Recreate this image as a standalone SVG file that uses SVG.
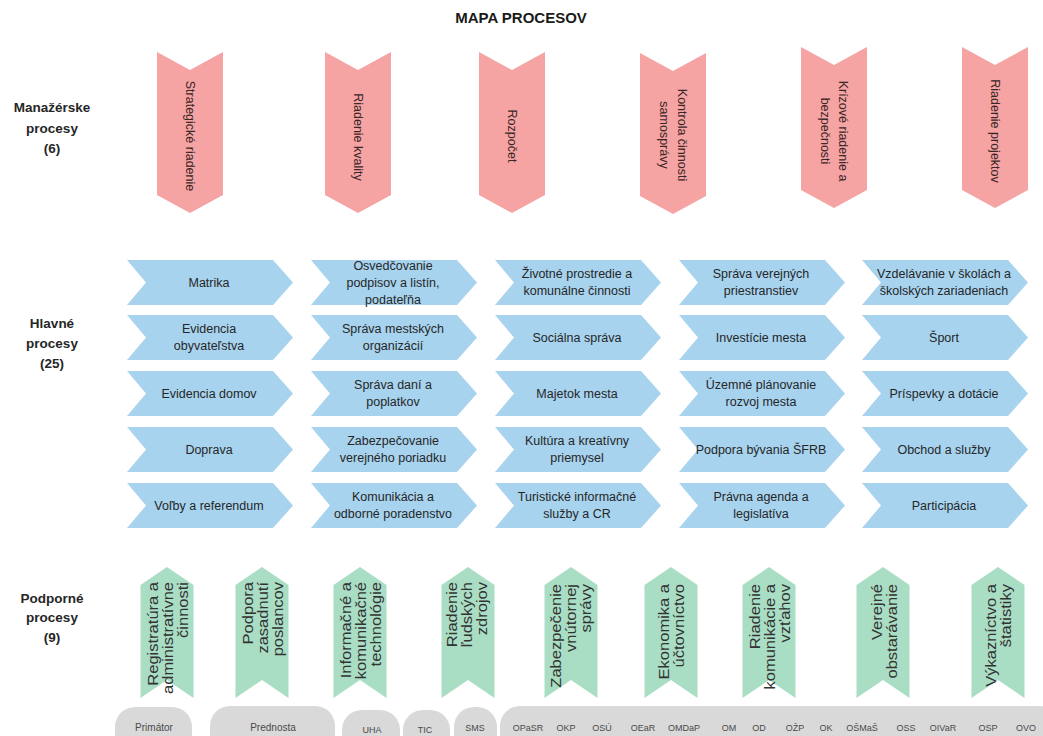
<svg xmlns="http://www.w3.org/2000/svg" xmlns:xlink="http://www.w3.org/1999/xlink" width="1043" height="736" viewBox="0 0 1043 736">
<style>
text{font-family:"Liberation Sans",Arial,sans-serif}
.title{font-size:15px;font-weight:bold;fill:#1a1a1a}
.lbl{font-size:13.5px;font-weight:bold;fill:#262626;text-anchor:middle}
.pink{fill:#f5a3a3}
.blue{fill:#a7d3ef}
.green{fill:#a9dec5}
.pill{fill:#d9d9d9}
.pt{font-size:12.5px;fill:#3a2626;text-anchor:middle;dominant-baseline:central}
.bt{font-size:12.5px;fill:#262626;text-anchor:middle;dominant-baseline:central}
.gt{font-size:14px;fill:#333333;text-anchor:end;dominant-baseline:central}
.ct{font-size:9px;fill:#4a4a4a;text-anchor:middle}
.ct2{font-size:10px;fill:#4a4a4a;text-anchor:middle}
</style>
<defs>
<path id="pdown" d="M0,0 L33,18 L66,0 V143 L33,161 L0,143 Z"/>
<path id="chev" d="M0,0 H146 L166,22.5 L146,45 H0 L19,22.5 Z"/>
<path id="gup" d="M0,18 L26.5,0 L53,18 V131 L26.5,113 L0,131 Z"/>
</defs>
<rect width="1043" height="736" fill="#ffffff"/>
<text class="title" x="521" y="23" text-anchor="middle">MAPA PROCESOV</text>

<g id="labels">
<text class="lbl" x="52" y="112">Manažérske</text>
<text class="lbl" x="52" y="133">procesy</text>
<text class="lbl" x="52" y="153">(6)</text>
<text class="lbl" x="52" y="328">Hlavné</text>
<text class="lbl" x="52" y="348">procesy</text>
<text class="lbl" x="52" y="368">(25)</text>
<text class="lbl" x="52" y="603">Podporné</text>
<text class="lbl" x="52" y="622">procesy</text>
<text class="lbl" x="52" y="642">(9)</text>
</g>

<g id="connectors"/>

<!-- Managerial processes -->
<g id="m1"><use href="#pdown" class="pink" x="157" y="52"/><text class="pt" transform="translate(190,136) rotate(90)">Strategické riadenie</text></g>
<g id="m2"><use href="#pdown" class="pink" x="325" y="52"/><text class="pt" transform="translate(358,137) rotate(90)">Riadenie kvality</text></g>
<g id="m3"><use href="#pdown" class="pink" x="479" y="52"/><text class="pt" transform="translate(512,136) rotate(90)">Rozpočet</text></g>
<g id="m4"><use href="#pdown" class="pink" x="640" y="53"/><text class="pt" transform="translate(673,135) rotate(90)"><tspan x="0" y="-9">Kontrola činnosti</tspan><tspan x="0" y="9">samosprávy</tspan></text></g>
<g id="m5"><use href="#pdown" class="pink" x="801" y="47"/><text class="pt" transform="translate(834,131) rotate(90)"><tspan x="0" y="-9">Krízové riadenie a</tspan><tspan x="0" y="9">bezpečnosti</tspan></text></g>
<g id="m6"><use href="#pdown" class="pink" x="962" y="47"/><text class="pt" transform="translate(995,131) rotate(90)">Riadenie projektov</text></g>

<!-- Main processes: column 1 -->
<g id="h1"><use href="#chev" class="blue" x="127" y="260"/><text class="bt" x="209" y="282.5">Matrika</text></g>
<g id="h2"><use href="#chev" class="blue" x="127" y="315"/><text class="bt"><tspan x="209" y="329">Evidencia</tspan><tspan x="209" y="346">obyvateľstva</tspan></text></g>
<g id="h3"><use href="#chev" class="blue" x="127" y="371"/><text class="bt" x="209" y="393.5">Evidencia domov</text></g>
<g id="h4"><use href="#chev" class="blue" x="127" y="427"/><text class="bt" x="209" y="449.5">Doprava</text></g>
<g id="h5"><use href="#chev" class="blue" x="127" y="483"/><text class="bt" x="209" y="505.5">Voľby a referendum</text></g>
<!-- column 2 -->
<g id="h6"><use href="#chev" class="blue" x="311" y="260"/><text class="bt"><tspan x="393" y="265.5">Osvedčovanie</tspan><tspan x="393" y="282.5">podpisov a listín,</tspan><tspan x="393" y="299.5">podateľňa</tspan></text></g>
<g id="h7"><use href="#chev" class="blue" x="311" y="315"/><text class="bt"><tspan x="393" y="329">Správa mestských</tspan><tspan x="393" y="346">organizácií</tspan></text></g>
<g id="h8"><use href="#chev" class="blue" x="311" y="371"/><text class="bt"><tspan x="393" y="385">Správa daní a</tspan><tspan x="393" y="402">poplatkov</tspan></text></g>
<g id="h9"><use href="#chev" class="blue" x="311" y="427"/><text class="bt"><tspan x="393" y="441">Zabezpečovanie</tspan><tspan x="393" y="458">verejného poriadku</tspan></text></g>
<g id="h10"><use href="#chev" class="blue" x="311" y="483"/><text class="bt"><tspan x="393" y="497">Komunikácia a</tspan><tspan x="393" y="514">odborné poradenstvo</tspan></text></g>
<!-- column 3 -->
<g id="h11"><use href="#chev" class="blue" x="495" y="260"/><text class="bt"><tspan x="577" y="274">Životné prostredie a</tspan><tspan x="577" y="291">komunálne činnosti</tspan></text></g>
<g id="h12"><use href="#chev" class="blue" x="495" y="315"/><text class="bt" x="577" y="337.5">Sociálna správa</text></g>
<g id="h13"><use href="#chev" class="blue" x="495" y="371"/><text class="bt" x="577" y="393.5">Majetok mesta</text></g>
<g id="h14"><use href="#chev" class="blue" x="495" y="427"/><text class="bt"><tspan x="577" y="441">Kultúra a kreatívny</tspan><tspan x="577" y="458">priemysel</tspan></text></g>
<g id="h15"><use href="#chev" class="blue" x="495" y="483"/><text class="bt"><tspan x="577" y="497">Turistické informačné</tspan><tspan x="577" y="514">služby a CR</tspan></text></g>
<!-- column 4 -->
<g id="h16"><use href="#chev" class="blue" x="679" y="260"/><text class="bt"><tspan x="761" y="274">Správa verejných</tspan><tspan x="761" y="291">priestranstiev</tspan></text></g>
<g id="h17"><use href="#chev" class="blue" x="679" y="315"/><text class="bt" x="761" y="337.5">Investície mesta</text></g>
<g id="h18"><use href="#chev" class="blue" x="679" y="371"/><text class="bt"><tspan x="761" y="385">Územné plánovanie</tspan><tspan x="761" y="402">rozvoj mesta</tspan></text></g>
<g id="h19"><use href="#chev" class="blue" x="679" y="427"/><text class="bt" x="761" y="449.5">Podpora bývania ŠFRB</text></g>
<g id="h20"><use href="#chev" class="blue" x="679" y="483"/><text class="bt"><tspan x="761" y="497">Právna agenda a</tspan><tspan x="761" y="514">legislatíva</tspan></text></g>
<!-- column 5 -->
<g id="h21"><use href="#chev" class="blue" x="862" y="260"/><text class="bt"><tspan x="944" y="274">Vzdelávanie v školách a</tspan><tspan x="944" y="291">školských zariadeniach</tspan></text></g>
<g id="h22"><use href="#chev" class="blue" x="862" y="315"/><text class="bt" x="944" y="337.5">Šport</text></g>
<g id="h23"><use href="#chev" class="blue" x="862" y="371"/><text class="bt" x="944" y="393.5">Príspevky a dotácie</text></g>
<g id="h24"><use href="#chev" class="blue" x="862" y="427"/><text class="bt" x="944" y="449.5">Obchod a služby</text></g>
<g id="h25"><use href="#chev" class="blue" x="862" y="483"/><text class="bt" x="944" y="505.5">Participácia</text></g>

<!-- Support processes -->
<g id="p1"><use href="#gup" class="green" x="140.5" y="567"/><text class="gt" transform="translate(168,582) rotate(-90) scale(1.18,1)"><tspan x="0" y="-15">Registratúra a</tspan><tspan x="0" y="0">administratívne</tspan><tspan x="0" y="15">činnosti</tspan></text></g>
<g id="p2"><use href="#gup" class="green" x="235.5" y="567"/><text class="gt" transform="translate(263,582) rotate(-90) scale(1.18,1)"><tspan x="0" y="-15">Podpora</tspan><tspan x="0" y="0">zasadnutí</tspan><tspan x="0" y="15">poslancov</tspan></text></g>
<g id="p3"><use href="#gup" class="green" x="333.5" y="567"/><text class="gt" transform="translate(361,582) rotate(-90) scale(1.18,1)"><tspan x="0" y="-15">Informačné a</tspan><tspan x="0" y="0">komunikačné</tspan><tspan x="0" y="15">technológie</tspan></text></g>
<g id="p4"><use href="#gup" class="green" x="441.5" y="567"/><text class="gt" transform="translate(467,582) rotate(-90) scale(1.18,1)"><tspan x="0" y="-15">Riadenie</tspan><tspan x="0" y="0">ľudských</tspan><tspan x="0" y="15">zdrojov</tspan></text></g>
<g id="p5"><use href="#gup" class="green" x="544.5" y="567"/><text class="gt" transform="translate(571,584) rotate(-90) scale(1.18,1)"><tspan x="0" y="-15">Zabezpečenie</tspan><tspan x="0" y="0">vnútornej</tspan><tspan x="0" y="15">správy</tspan></text></g>
<g id="p6"><use href="#gup" class="green" x="644.5" y="567"/><text class="gt" transform="translate(671,584) rotate(-90) scale(1.18,1)"><tspan x="0" y="-7.5">Ekonomika a</tspan><tspan x="0" y="7.5">účtovníctvo</tspan></text></g>
<g id="p7"><use href="#gup" class="green" x="742.5" y="567"/><text class="gt" transform="translate(770,584) rotate(-90) scale(1.18,1)"><tspan x="0" y="-15">Riadenie</tspan><tspan x="0" y="0">komunikácie a</tspan><tspan x="0" y="15">vzťahov</tspan></text></g>
<g id="p8"><use href="#gup" class="green" x="856.5" y="567"/><text class="gt" transform="translate(884,584) rotate(-90) scale(1.18,1)"><tspan x="0" y="-7.5">Verejné</tspan><tspan x="0" y="7.5">obstarávanie</tspan></text></g>
<g id="p9"><use href="#gup" class="green" x="971.5" y="567"/><text class="gt" transform="translate(998,584) rotate(-90) scale(1.18,1)"><tspan x="0" y="-7.5">Výkazníctvo a</tspan><tspan x="0" y="7.5">štatistiky</tspan></text></g>

<!-- Organisational units -->
<g id="u1"><rect class="pill" x="115" y="707" width="77" height="50" rx="20"/><text class="ct2" x="154" y="731">Primátor</text></g>
<g id="u2"><rect class="pill" x="210" y="706" width="125" height="50" rx="20"/><text class="ct2" x="273" y="731">Prednosta</text></g>
<g id="u3"><rect class="pill" x="342" y="710" width="58" height="50" rx="20"/><text class="ct" x="372" y="733">UHA</text></g>
<g id="u4"><rect class="pill" x="403" y="710" width="47" height="50" rx="20"/><text class="ct" x="425" y="733">TIC</text></g>
<g id="u5"><rect class="pill" x="454" y="707" width="43" height="50" rx="20"/><text class="ct" x="475" y="731">SMS</text></g>
<g id="u6"><rect class="pill" x="500" y="706" width="560" height="50" rx="20"/>
<text class="ct" x="528" y="731">OPaSR</text>
<text class="ct" x="566" y="731">OKP</text>
<text class="ct" x="602" y="731">OSÚ</text>
<text class="ct" x="643" y="731">OEaR</text>
<text class="ct" x="684" y="731">OMDaP</text>
<text class="ct" x="729" y="731">OM</text>
<text class="ct" x="759" y="731">OD</text>
<text class="ct" x="795" y="731">OŽP</text>
<text class="ct" x="826" y="731">OK</text>
<text class="ct" x="862" y="731">OŠMaŠ</text>
<text class="ct" x="906" y="731">OSS</text>
<text class="ct" x="943" y="731">OIVaR</text>
<text class="ct" x="988" y="731">OSP</text>
<text class="ct" x="1026" y="731">OVO</text>
</g>
</svg>
